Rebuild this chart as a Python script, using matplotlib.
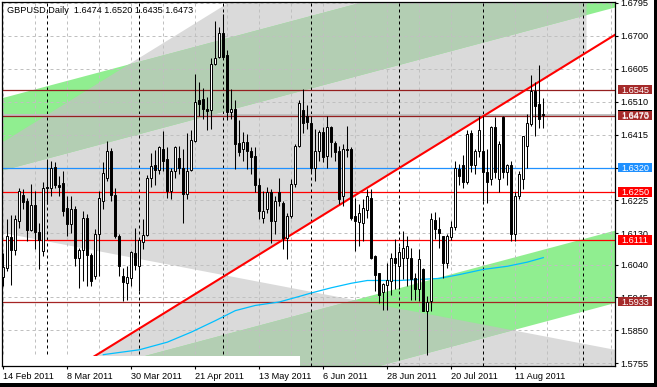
import numpy as np
import pandas as pd
import matplotlib
matplotlib.use("Agg")
import matplotlib.pyplot as plt
from matplotlib.patches import Polygon, Rectangle

plt.rcParams['font.family'] = ['Liberation Sans', 'DejaVu Sans']

# daily GBPUSD bars
opens = [1.6003, 1.6030, 1.6120, 1.6082, 1.6166, 1.6240, 1.6224, 1.6140, 1.6211, 1.6135,
         1.6079, 1.6264, 1.6262, 1.6323, 1.6269, 1.6275, 1.6202, 1.6158, 1.6200, 1.6059,
         1.6081, 1.6175, 1.6069, 1.6006, 1.6129, 1.6224, 1.6290, 1.6367, 1.6240, 1.6122,
         1.6006, 1.5987, 1.6001, 1.6074, 1.6035, 1.6106, 1.6125, 1.6291, 1.6328, 1.6313,
         1.6374, 1.6344, 1.6253, 1.6310, 1.6347, 1.6320, 1.6245, 1.6314, 1.6398, 1.6514,
         1.6519, 1.6490, 1.6485, 1.6620, 1.6639, 1.6707, 1.6644, 1.6480, 1.6490, 1.6391,
         1.6373, 1.6393, 1.6369, 1.6354, 1.6270, 1.6175, 1.6200, 1.6248, 1.6166, 1.6248,
         1.6219, 1.6117, 1.6180, 1.6272, 1.6383, 1.6485, 1.6470, 1.6449, 1.6320, 1.6369,
         1.6422, 1.6354, 1.6436, 1.6391, 1.6369, 1.6238, 1.6374, 1.6374, 1.6180, 1.6163,
         1.6161, 1.6198, 1.6233, 1.6066, 1.6016, 1.5960, 1.5982, 1.5992, 1.6059, 1.6035,
         1.6059, 1.6059, 1.6059, 1.6002, 1.5968, 1.6027, 1.5905, 1.5934, 1.6169, 1.6142,
         1.6122, 1.6045, 1.6120, 1.6149, 1.6315, 1.6327, 1.6279, 1.6419, 1.6328, 1.6369,
         1.6369, 1.6306, 1.6286, 1.6436, 1.6286, 1.6465, 1.6308, 1.6327, 1.6127, 1.6238,
         1.6286, 1.6383, 1.6446, 1.6540, 1.6502, 1.6474]
highs = [1.6074, 1.6171, 1.6182, 1.6182, 1.6260, 1.6258, 1.6231, 1.6272, 1.6253, 1.6159,
         1.6277, 1.6340, 1.6340, 1.6335, 1.6296, 1.6311, 1.6238, 1.6238, 1.6209, 1.6088,
         1.6195, 1.6185, 1.6074, 1.6142, 1.6253, 1.6335, 1.6398, 1.6376, 1.6262, 1.6127,
         1.6030, 1.6035, 1.6079, 1.6146, 1.6113, 1.6172, 1.6298, 1.6361, 1.6370, 1.6383,
         1.6425, 1.6378, 1.6320, 1.6383, 1.6383, 1.6374, 1.6420, 1.6427, 1.6591, 1.6567,
         1.6549, 1.6523, 1.6635, 1.6744, 1.6726, 1.6762, 1.6659, 1.6548, 1.6514, 1.6456,
         1.6422, 1.6417, 1.6378, 1.6378, 1.6290, 1.6253, 1.6265, 1.6258, 1.6238, 1.6290,
         1.6224, 1.6190, 1.6287, 1.6388, 1.6514, 1.6548, 1.6500, 1.6470, 1.6431, 1.6427,
         1.6436, 1.6470, 1.6441, 1.6398, 1.6383, 1.6388, 1.6441, 1.6380, 1.6233, 1.6214,
         1.6229, 1.6258, 1.6258, 1.6068, 1.6016, 1.5987, 1.6045, 1.6074, 1.6115, 1.6093,
         1.6137, 1.6122, 1.6088, 1.6016, 1.6084, 1.6030, 1.5948, 1.6190, 1.6192, 1.6176,
         1.6122, 1.6127, 1.6166, 1.6340, 1.6330, 1.6355, 1.6427, 1.6427, 1.6374, 1.6470,
         1.6470, 1.6374, 1.6439, 1.6465, 1.6398, 1.6470, 1.6330, 1.6340, 1.6250, 1.6311,
         1.6412, 1.6475, 1.6586, 1.6567, 1.6615, 1.6520]
lows = [1.5977, 1.6021, 1.5982, 1.6069, 1.6146, 1.6200, 1.6108, 1.6137, 1.6084, 1.6026,
        1.6066, 1.6214, 1.6238, 1.6262, 1.6238, 1.6180, 1.6122, 1.6132, 1.6035, 1.5972,
        1.5992, 1.5977, 1.5977, 1.5997, 1.6006, 1.6200, 1.6282, 1.6224, 1.6117, 1.6006,
        1.5934, 1.5938, 1.5977, 1.6025, 1.5963, 1.6084, 1.6122, 1.6264, 1.6270, 1.6300,
        1.6311, 1.6233, 1.6229, 1.6290, 1.6300, 1.6161, 1.6229, 1.6311, 1.6393, 1.6470,
        1.6461, 1.6427, 1.6432, 1.6615, 1.6635, 1.6635, 1.6456, 1.6461, 1.6315, 1.6354,
        1.6340, 1.6315, 1.6300, 1.6250, 1.6171, 1.6161, 1.6190, 1.6103, 1.6127, 1.6210,
        1.6084, 1.6055, 1.6175, 1.6265, 1.6378, 1.6421, 1.6430, 1.6306, 1.6282, 1.6340,
        1.6335, 1.6320, 1.6350, 1.6340, 1.6214, 1.6209, 1.6350, 1.6170, 1.6079, 1.6093,
        1.6108, 1.6175, 1.6055, 1.5963, 1.5929, 1.5910, 1.5910, 1.5953, 1.5968, 1.5968,
        1.5997, 1.5977, 1.5939, 1.5939, 1.5934, 1.5905, 1.5779, 1.5905, 1.6113, 1.6088,
        1.6001, 1.6030, 1.6110, 1.6140, 1.6270, 1.6260, 1.6272, 1.6306, 1.6300, 1.6350,
        1.6224, 1.6219, 1.6270, 1.6290, 1.6250, 1.6290, 1.6270, 1.6108, 1.6108, 1.6230,
        1.6257, 1.6320, 1.6441, 1.6412, 1.6433, 1.6435]
closes = [1.6032, 1.6122, 1.6082, 1.6171, 1.6251, 1.6221, 1.6140, 1.6211, 1.6134, 1.6111,
          1.6262, 1.6262, 1.6320, 1.6269, 1.6264, 1.6195, 1.6158, 1.6200, 1.6059, 1.6081,
          1.6175, 1.6067, 1.5992, 1.6129, 1.6231, 1.6304, 1.6369, 1.6240, 1.6122, 1.6037,
          1.5989, 1.6004, 1.6077, 1.6038, 1.6110, 1.6125, 1.6291, 1.6325, 1.6313, 1.6378,
          1.6340, 1.6253, 1.6310, 1.6378, 1.6320, 1.6245, 1.6310, 1.6400, 1.6509, 1.6504,
          1.6490, 1.6482, 1.6620, 1.6635, 1.6707, 1.6639, 1.6480, 1.6490, 1.6388, 1.6364,
          1.6393, 1.6369, 1.6349, 1.6270, 1.6195, 1.6195, 1.6248, 1.6166, 1.6224, 1.6224,
          1.6117, 1.6180, 1.6272, 1.6383, 1.6507, 1.6449, 1.6452, 1.6320, 1.6369, 1.6422,
          1.6349, 1.6436, 1.6393, 1.6364, 1.6229, 1.6374, 1.6372, 1.6175, 1.6166, 1.6190,
          1.6202, 1.6238, 1.6059, 1.6011, 1.5953, 1.5985, 1.5994, 1.6059, 1.6045, 1.6076,
          1.6088, 1.6093, 1.5997, 1.5968, 1.6055, 1.5905, 1.5931, 1.6171, 1.6142, 1.6130,
          1.6045, 1.6122, 1.6149, 1.6320, 1.6296, 1.6277, 1.6417, 1.6328, 1.6369, 1.6427,
          1.6306, 1.6277, 1.6436, 1.6306, 1.6388, 1.6306, 1.6327, 1.6127, 1.6238, 1.6301,
          1.6412, 1.6448, 1.6540, 1.6499, 1.6459, 1.6473]
dates = pd.bdate_range('2011-02-14', periods=len(closes))

# moving average (cyan line), sampled along the chart
ma_idx = [25, 34, 41, 47, 53, 58, 63, 69, 74, 77, 82, 87, 91, 99, 109, 114, 120, 126, 131, 135]
ma_val = [1.5780, 1.5794, 1.5816, 1.5845, 1.5878, 1.5907, 1.5922, 1.5932, 1.5948, 1.5958,
          1.5973, 1.5986, 1.5994, 1.5994, 1.6000, 1.6011, 1.6026, 1.6035, 1.6047, 1.6060]

# horizontal levels with their price boxes
level_prices = [1.6545, 1.6470, 1.6320, 1.6250, 1.6111, 1.5933]
level_colors = ['#a52a2a', '#a52a2a', '#1e90ff', '#ff0000', '#ff0000', '#a52a2a']
line_colors = ['#951f1f', '#951f1f', '#1e90ff', '#ff0000', '#ff0000', '#a52424']

tick_vals = [1.6795, 1.6700, 1.6605, 1.6510, 1.6415, 1.6320, 1.6225, 1.6130,
             1.6040, 1.5945, 1.5850, 1.5755]

# chart objects (bar index, price)
trend_t = [23, 152]
trend_p = [1.5777, 1.66965]
asc_width = 0.0781      # gray channel sitting on the trend line
asc_end = 145.8
green_t = [0, 152]
green1_p = [1.6312, 1.6779]
green2_p = [1.5458, 1.5926]
green_width = 0.0209
desc_t = [0, 152]
desc_p = [1.6131, 1.5796]
mask_end = 74.2
mask_top = 1.5777
sep_idx = [11, 34, 55, 77, 99, 120, 145]

GRAY = '#dadada'
LGREEN = '#90ee90'
SAGE = '#b3ceb3'
FS = 6.6

idx = np.arange(len(closes))
o = np.array(opens); h = np.array(highs); l = np.array(lows); c = np.array(closes)


def band(t, p, width, t0=-10, t1=170):
    k = (p[1] - p[0]) / (t[1] - t[0])
    base = lambda x: p[0] + k * (x - t[0])
    return [(t0, base(t0)), (t1, base(t1)), (t1, base(t1) + width), (t0, base(t0) + width)]


fig = plt.figure(figsize=(6.57, 3.87), dpi=100)
ax = fig.add_axes([2 / 657, 21 / 387, 613 / 657, 364 / 387])
ax.set_xlim(-0.325, 152.925)
ax.set_ylim(1.57472, 1.67978)

# ── background channels ──────────────────────────────
asc = Polygon(band(trend_t, trend_p, asc_width, t1=asc_end), closed=True,
              facecolor=GRAY, edgecolor='none', zorder=1)
desc = Polygon(band(desc_t, desc_p, -0.3), closed=True,
               facecolor=GRAY, edgecolor='none', zorder=1)
ax.add_patch(asc)
ax.add_patch(desc)
overlap = Polygon(band(desc_t, desc_p, -0.3), closed=True,
                  facecolor='white', edgecolor='none', zorder=1.1)
ax.add_patch(overlap)
overlap.set_clip_path(asc)

for gp, clipper in [(green1_p, asc), (green2_p, desc)]:
    ax.add_patch(Polygon(band(green_t, gp, green_width), closed=True,
                         facecolor=LGREEN, edgecolor='none', zorder=1.2))
    s = Polygon(band(green_t, gp, green_width), closed=True,
                facecolor=SAGE, edgecolor='none', zorder=1.3)
    ax.add_patch(s)
    s.set_clip_path(clipper)

# ── grid and period separators ────────────────────────
for v in tick_vals:
    ax.axhline(v, color='#c0c0c0', lw=0.72, ls=(0, (3, 3)), zorder=2)
for i in range(0, 153, 8):
    ax.axvline(i, color='#c0c0c0', lw=0.72, ls=(0, (3, 3)), zorder=2)
for i in sep_idx:
    ax.axvline(i, color='black', lw=0.72, ls=(0, (3, 3)), zorder=2.2)

# ── levels, trend line, MA ────────────────────────────
ax.axhline(c[-1], color='#c0c0c0', lw=1.4, zorder=2.5)
for p, col in zip(level_prices, line_colors):
    ax.axhline(p, color=col, lw=0.9, zorder=2.6)

tt = np.array([trend_t[0] - 10, 160])
k = (trend_p[1] - trend_p[0]) / (trend_t[1] - trend_t[0])
ax.plot(tt, trend_p[0] + k * (tt - trend_t[0]), color='#ff0000', lw=1.5, zorder=3)
ax.plot(ma_idx, ma_val, color='#00bfff', lw=0.9, zorder=3)

# ── candles ───────────────────────────────────────────
ax.vlines(idx, l, h, color='black', lw=0.75, zorder=4)
up = c >= o
ax.bar(idx[up], np.maximum(c - o, 1e-6)[up], bottom=o[up], width=0.55,
       facecolor='white', edgecolor='black', lw=0.7, zorder=5)
ax.bar(idx[~up], (o - c)[~up], bottom=c[~up], width=0.55,
       facecolor='black', edgecolor='black', lw=0.7, zorder=5)

# white box at the bottom
ax.add_patch(Rectangle((-5, 1.5), mask_end + 5, mask_top - 1.5,
                       facecolor='white', edgecolor='none', zorder=6))

# ── axes ──────────────────────────────────────────────
ax.yaxis.tick_right()
ax.set_yticks(tick_vals)
ax.set_yticklabels([f"{v:.4f}" for v in tick_vals])
ax.tick_params(axis='y', length=2.5, width=0.8, pad=1.5, labelsize=FS)
ticks = idx[::16]
ax.set_xticks(ticks)
ax.set_xticklabels([f"{d.day} {d.strftime('%b %Y')}" for d in dates[ticks]])
ax.tick_params(axis='x', length=2.5, width=0.8, pad=1.5, labelsize=FS)
for lab in ax.get_xticklabels():
    lab.set_ha('left')
for sp in ax.spines.values():
    sp.set_color('black')
    sp.set_linewidth(0.9)
    sp.set_zorder(7)

# price boxes on the right scale
yt = ax.get_yaxis_transform()
bx, bw, bh = 1.0049, 0.0555, 0.00276
boxes = [(c[-1], 'black')] + list(zip(level_prices, level_colors))
for p, col in boxes:
    ax.add_patch(Rectangle((bx, p - bh / 2), bw, bh, transform=yt, clip_on=False,
                           facecolor=col, edgecolor='none', zorder=10))
    ax.text(bx + bw / 2, p, f"{p:.4f}", transform=yt, ha='center', va='center_baseline',
            color='white', fontsize=FS, clip_on=False, zorder=11)

title = f"GBPUSD,Daily  {o[-1]:.4f} {h[-1]:.4f} {l[-1]:.4f} {c[-1]:.4f}"
ax.text(0.0086, 0.988, title, transform=ax.transAxes, ha='left', va='top',
        fontsize=FS, color='black', zorder=12)

# window border
fig.add_artist(Rectangle((0, 0), 1, 4 / 387, transform=fig.transFigure,
                         facecolor='black', edgecolor='none'))
fig.add_artist(Rectangle((654 / 657, 0), 3 / 657, 1, transform=fig.transFigure,
                         facecolor='black', edgecolor='none'))

fig.savefig('out.png', dpi=100)
